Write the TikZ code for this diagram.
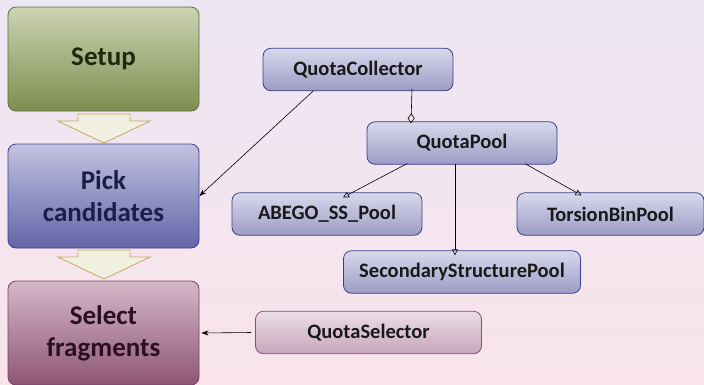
\documentclass[tikz,border=0pt]{standalone}
\usepackage{fontspec}
\setmainfont{Carlito}
\usetikzlibrary{arrows.meta,calc}
\definecolor{bgtop}{RGB}{237,230,244}
\definecolor{bgbot}{RGB}{249,228,234}
\definecolor{gtop}{RGB}{204,211,178}
\definecolor{gbot}{RGB}{126,142,80}
\definecolor{gbd}{RGB}{95,110,53}
\definecolor{gtx}{RGB}{34,40,15}
\definecolor{btop}{RGB}{194,195,224}
\definecolor{bbot}{RGB}{98,100,168}
\definecolor{bbd}{RGB}{59,63,140}
\definecolor{btx}{RGB}{29,29,74}
\definecolor{ptop}{RGB}{213,184,200}
\definecolor{pbot}{RGB}{142,85,117}
\definecolor{pbd}{RGB}{122,63,102}
\definecolor{ptx}{RGB}{42,15,34}
\definecolor{stop}{RGB}{216,216,236}
\definecolor{sbot}{RGB}{156,156,198}
\definecolor{sbd}{RGB}{61,63,135}
\definecolor{qtop}{RGB}{236,222,230}
\definecolor{qbot}{RGB}{200,166,186}
\definecolor{qbd}{RGB}{140,76,122}
\definecolor{afill}{RGB}{242,241,225}
\definecolor{abd}{RGB}{199,168,90}
\tikzset{
  x=1pt,y=-1pt,
  bigbox/.style={rounded corners=8pt, minimum width=191pt, minimum height=104pt, inner sep=0pt, align=center, font=\fontsize{27}{32}\selectfont\bfseries, line width=0.8pt},
  smallbox/.style={rounded corners=8pt, minimum height=42.5pt, inner sep=0pt, align=center, font=\fontsize{20.5}{22}\selectfont\bfseries, draw=sbd, top color=stop, bottom color=sbot, text=black!90, line width=0.8pt},
  blockarrow/.style={fill=afill, draw=abd, line width=0.8pt},
  conn/.style={draw=black, line width=0.6pt},
  genarrow/.style={conn, -{Triangle[open,length=6pt,width=6pt]}},
  aggarrow/.style={conn, -{Diamond[open,length=10pt,width=7pt]}},
  assoc/.style={conn, -{Stealth[length=7pt,width=5pt]}}
}
\begin{document}
\begin{tikzpicture}
\useasboundingbox (0,0) rectangle (704,384);
\shade[top color=bgtop, bottom color=bgbot] (0,0) rectangle (704,384);
% big boxes
\node[bigbox, draw=gbd, top color=gtop, bottom color=gbot, text=gtx] (setup) at (103.5,59) {Setup};
\node[bigbox, draw=bbd, top color=btop, bottom color=bbot, text=btx] (pick) at (103.5,196) {Pick\\candidates};
\node[bigbox, draw=pbd, top color=ptop, bottom color=pbot, text=ptx] (select) at (103.5,333) {Select\\fragments};
% block arrows
\draw[blockarrow] (78,114) -- (130,114) -- (130,121) -- (150,121) -- (104,143) -- (58,121) -- (78,121) -- cycle;
\draw[blockarrow] (78,250) -- (130,250) -- (130,257) -- (150,257) -- (104,279) -- (58,257) -- (78,257) -- cycle;
% small boxes
\node[smallbox, minimum width=190pt] (qc) at (358,69.5) {QuotaCollector};
\node[smallbox, minimum width=190pt] (qp) at (462,143) {QuotaPool};
\node[smallbox, minimum width=190pt] (abego) at (327,214) {ABEGO\_SS\_Pool};
\node[smallbox, minimum width=187pt] (tbp) at (610.5,214) {TorsionBinPool};
\node[smallbox, minimum width=237pt] (ssp) at (462,272) {SecondaryStructurePool};
\node[smallbox, minimum width=226pt, draw=qbd, top color=qtop, bottom color=qbot] (qs) at (368.5,332.5) {QuotaSelector};
% connectors
\draw[assoc] ([xshift=-45pt]qc.south) -- (pick.east);
\draw[aggarrow] ([xshift=54pt,yshift=2pt]qc.south) -- ([xshift=-51pt,yshift=-2pt]qp.north);
\draw[genarrow] ([xshift=-55pt,yshift=1pt]qp.south) -- ([xshift=16pt,yshift=-5pt]abego.north);
\draw[genarrow] ([xshift=-7pt,yshift=1pt]qp.south) -- ([xshift=-7pt,yshift=-5pt]ssp.north);
\draw[genarrow] ([xshift=63pt,yshift=1pt]qp.south) -- ([xshift=-29pt,yshift=-3pt]tbp.north);
\draw[assoc] ([xshift=-4pt]qs.west) -- ([xshift=2pt]select.east);
\end{tikzpicture}
\end{document}
